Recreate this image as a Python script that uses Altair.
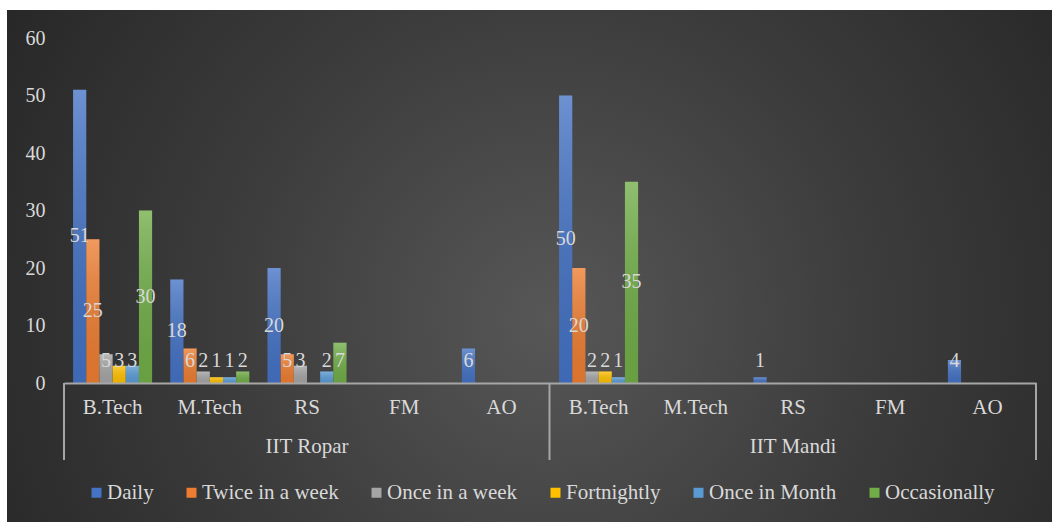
import altair as alt
import pandas as pd

institutions = ["IIT Ropar", "IIT Mandi"]
programs = ["B.Tech", "M.Tech", "RS", "FM", "AO"]
series = ["Daily", "Twice in a week", "Once in a week", "Fortnightly", "Once in Month", "Occasionally"]
colors = ["#4472c4", "#ed7d31", "#a5a5a5", "#ffc000", "#5b9bd5", "#70ad47"]

# values per series, order: Ropar B.Tech..AO, then Mandi B.Tech..AO
daily = [51, 18, 20, None, 6, 50, None, 1, None, 4]
twice = [25, 6, 5, None, None, 20, None, None, None, None]
once_week = [5, 2, 3, None, None, 2, None, None, None, None]
fortnightly = [3, 1, None, None, None, 2, None, None, None, None]
once_month = [3, 1, 2, None, None, 1, None, None, None, None]
occasionally = [30, 2, 7, None, None, 35, None, None, None, None]
values = [daily, twice, once_week, fortnightly, once_month, occasionally]

keys = [f"{i}|{p}" for i in institutions for p in programs]
rows = []
for s, vals in zip(series, values):
    for k, v in zip(keys, vals):
        if v is not None:
            rows.append({"key": k, "series": s, "value": v})
df = pd.DataFrame(rows)

FONT = "Liberation Serif, Times New Roman, serif"
TXT = "#d9d9d9"
LINE = "#a6a6a6"

xscale = alt.Scale(domain=keys, paddingInner=0.187, paddingOuter=0.0935)
x = alt.X("key:N", scale=xscale, sort=keys, title=None,
          axis=alt.Axis(labelExpr="split(datum.label, '|')[1]", labelAngle=0, zindex=2,
                        ticks=False, domain=True, domainColor=LINE, domainWidth=2,
                        labelColor=TXT, labelFont=FONT, labelFontSize=21,
                        labelPadding=24, labelBaseline="middle", grid=False))
xoff = alt.XOffset("series:N", scale=alt.Scale(domain=series, paddingInner=0, paddingOuter=0), sort=series)
y = alt.Y("value:Q", scale=alt.Scale(domain=[0, 60]), title=None,
          axis=alt.Axis(values=[0, 10, 20, 30, 40, 50, 60], ticks=False, domain=False, grid=False, zindex=2,
                        labelColor=TXT, labelFont=FONT, labelFontSize=20, labelPadding=19))

bg = alt.Chart(pd.DataFrame({"a": [0]})).mark_rect(
    color=alt.RadialGradient(gradient="radial", x1=0.52, y1=0.55, r1=0, x2=0.52, y2=0.55, r2=0.62,
                             stops=[alt.GradientStop(color="#575757", offset=0),
                                    alt.GradientStop(color="#3c3c3c", offset=0.5),
                                    alt.GradientStop(color="#262626", offset=1)])
).encode(x=alt.value(-57), x2=alt.value(988), y=alt.value(-28), y2=alt.value(484))

bars = alt.Chart(df).mark_bar().encode(
    x=x, xOffset=xoff, y=y,
    color=alt.Color("series:N", scale=alt.Scale(domain=series, range=colors), sort=series,
                    legend=alt.Legend(title=None, orient="none", legendX=22, legendY=444, zindex=2,
                                      direction="horizontal", symbolType="square", symbolSize=100,
                                      symbolStrokeWidth=0, labelColor=TXT, labelFont=FONT,
                                      labelFontSize=21, labelOffset=0, columnPadding=27)))

shade = alt.Chart(df).mark_bar(
    color=alt.LinearGradient(gradient="linear", x1=0, y1=0, x2=0, y2=1,
                             stops=[alt.GradientStop(color="rgba(255,255,255,0.22)", offset=0),
                                    alt.GradientStop(color="rgba(0,0,0,0.08)", offset=1)])
).encode(x=alt.X("key:N", scale=xscale, sort=keys), xOffset=xoff, y="value:Q")

labels = alt.Chart(df).transform_calculate(
    ly="max(datum.value / 2, 3.8)"
).mark_text(font=FONT, fontSize=20, color=TXT, baseline="middle", align="center").encode(
    x=alt.X("key:N", scale=xscale, sort=keys), xOffset=xoff,
    y=alt.Y("ly:Q"), text="value:Q")

seps = alt.Chart(pd.DataFrame({"px": [0, 485.5, 972]})).mark_rule(color=LINE, strokeWidth=2).encode(
    x=alt.X("px:Q", scale=None), y=alt.value(345), y2=alt.value(422))

grp = alt.Chart(pd.DataFrame({"inst": institutions, "key": [f"{i}|RS" for i in institutions]})).mark_text(
    font=FONT, fontSize=21, color=TXT, baseline="middle", align="center"
).encode(x=alt.X("key:N", scale=xscale, sort=keys), y=alt.value(409), text="inst:N")

chart = alt.layer(bg, bars, shade, labels, seps, grp).properties(
    width=972, height=345,
    autosize=alt.AutoSizeParams(type="none"),
    padding={"left": 64, "top": 38, "right": 16, "bottom": 139},
    background="white",
).configure_view(stroke=None).configure(font=FONT)

chart.save("out.html", embed_options={"renderer": "svg", "actions": False})
